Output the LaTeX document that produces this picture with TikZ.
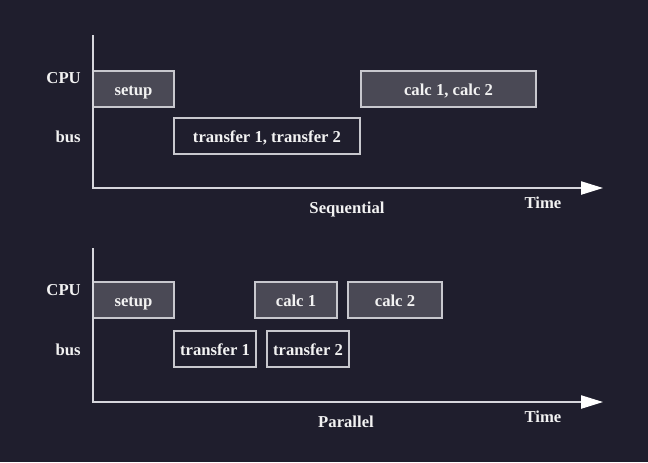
\documentclass[tikz,border=0pt]{standalone}
\usepackage{fontspec}
\setmainfont{Liberation Serif}
\usepackage{xcolor}
\usetikzlibrary{arrows.meta, positioning}
\definecolor{schedbg}{RGB}{31, 30, 45}
\definecolor{schedfill}{RGB}{74, 73, 85}
\definecolor{schedline}{RGB}{200, 200, 206}
\definecolor{schedtext}{RGB}{242, 242, 242}
\definecolor{schedaxis}{RGB}{214, 214, 220}

\begin{document}
\begin{tikzpicture}[x=0.75pt, y=-0.75pt,
        cpu/.style={rectangle, draw=schedline, fill=schedfill, line width=0.8pt, minimum height=27pt, inner sep=0pt, text height=2.2ex, text depth=0pt, text=schedtext, font=\fontsize{12.5}{15}\selectfont\bfseries},
        bus/.style={cpu, fill=none},
        lane/.style={anchor=east, inner sep=0pt, text=schedtext, font=\fontsize{12.5}{15}\selectfont\bfseries},
        caption/.style={inner sep=0pt, text=schedtext, font=\fontsize{12.5}{15}\selectfont\bfseries},
        axis/.style={-{Triangle[length=16.5pt, width=10pt, color=white]}, line width=0.9pt, draw=schedaxis}
    ]
        \fill[schedbg] (0,0) rectangle (648,462);
        \node[cpu, minimum width=60.75pt] (setupA) at (133.5,89) {setup};
        \node[bus, minimum width=139.5pt] (xferA) at (267,136) {transfer 1, transfer 2};
        \node[cpu, minimum width=131.25pt] (calcA) at (448.5,89) {calc 1, calc 2};
        \node[lane] (cpuA) at (81,78) {CPU};
        \node[lane] (busA) at (81,137) {bus};
        \coordinate (topA) at (93,35);
        \coordinate (origA) at (93,188);
        \coordinate (endA) at (603,188);
        \draw[axis] (topA) -- (origA) -- (endA);
        \node[caption] (timeA) at (543,203) {Time};
        \node[caption] (seqA) at (347,209) {Sequential};
        \node[cpu, minimum width=60.75pt] (setupB) at (133.5,300) {setup};
        \node[cpu, minimum width=61.5pt] (calcB) at (296,300) {calc 1};
        \node[cpu, minimum width=70.5pt] (calcC) at (395,300) {calc 2};
        \node[bus, minimum width=61.5pt] (xferB) at (215,349) {transfer 1};
        \node[bus, minimum width=61.5pt] (xferC) at (308,349) {transfer 2};
        \node[lane] (cpuB) at (81,290) {CPU};
        \node[lane] (busB) at (81,350) {bus};
        \coordinate (topB) at (93,248);
        \coordinate (origB) at (93,402);
        \coordinate (endB) at (603,402);
        \draw[axis] (topB) -- (origB) -- (endB);
        \node[caption] (timeB) at (543,417) {Time};
        \node[caption] (parB) at (346,422) {Parallel};
    \end{tikzpicture}
\end{document}
